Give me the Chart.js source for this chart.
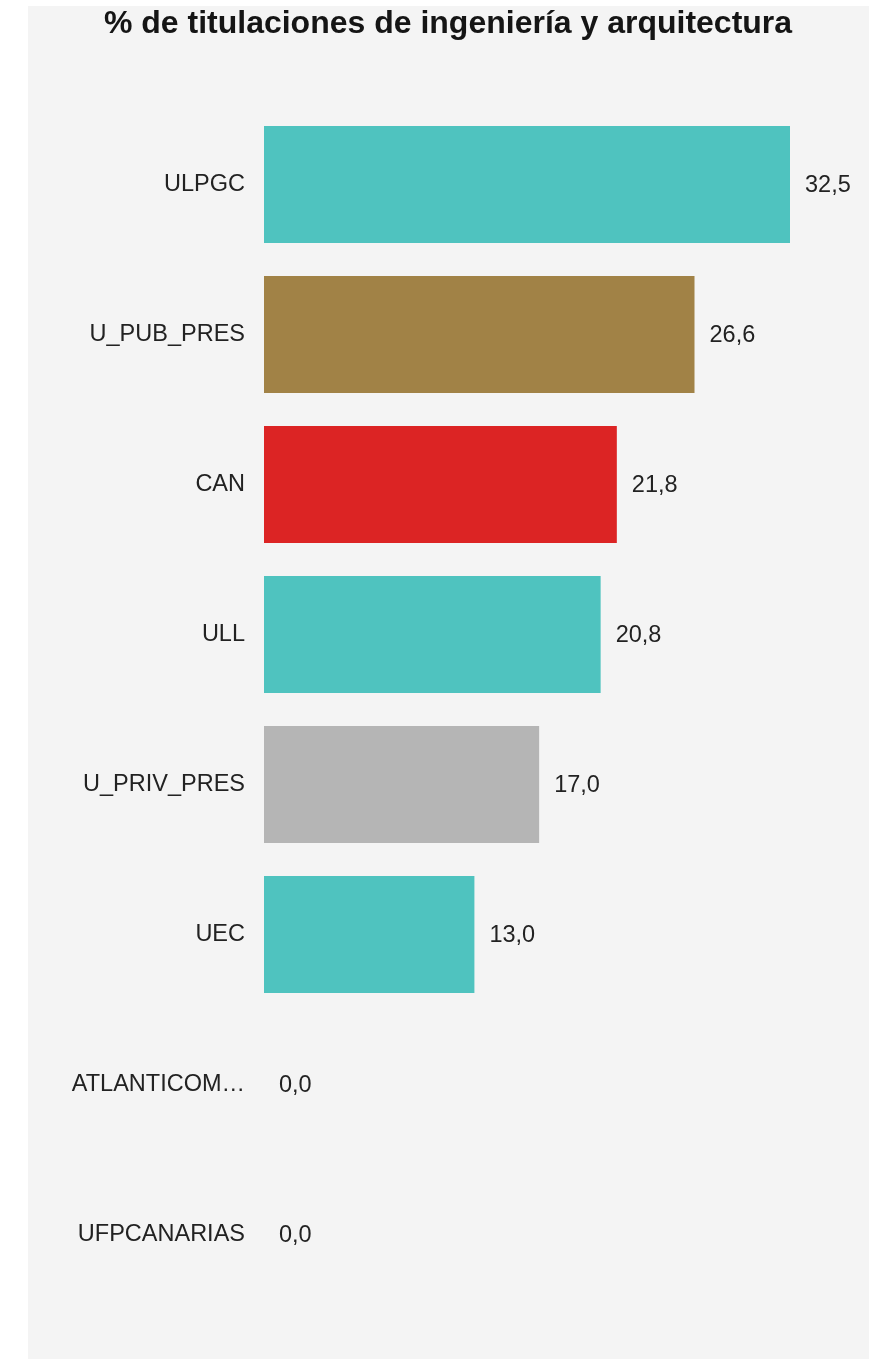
<!DOCTYPE html>
<html lang="es">
<head>
<meta charset="utf-8">
<title>% de titulaciones de ingeniería y arquitectura</title>
<script src="https://cdn.jsdelivr.net/npm/chart.js@4/dist/chart.umd.min.js"></script>
<style>
    html, body {
        margin: 0;
        padding: 0;
        background: #ffffff;
    }
    .panel {
        position: absolute;
        left: 28px;
        top: 6px;
        width: 841px;
        height: 1353px;
        background: #f4f4f4;
    }
    .chart-wrap {
        position: absolute;
        left: 0;
        top: 0;
        width: 876px;
        height: 1359px;
    }
</style>
</head>
<body>
<div class="panel"></div>
<div class="chart-wrap">
    <canvas id="engChart"></canvas>
</div>
<script>
// Data
const chartTitle = "% de titulaciones de ingeniería y arquitectura";
const universities = ["ULPGC", "U_PUB_PRES", "CAN", "ULL", "U_PRIV_PRES", "UEC", "ATLANTICOM…", "UFPCANARIAS"];
const engShare = [32.5, 26.6, 21.8, 20.8, 17.0, 13.0, 0.0, 0.0];
const barColors = ["#4fc3bf", "#a18246", "#dc2424", "#4fc3bf", "#b5b5b5", "#4fc3bf", "#4fc3bf", "#4fc3bf"];

const fontFamily = "'Liberation Sans', Arial, Helvetica, sans-serif";

// Title centred over the grey panel, not over the chart area
const panelTitle = {
    id: "panelTitle",
    afterDraw(chart) {
        const ctx = chart.ctx;
        ctx.save();
        ctx.font = "bold 32px " + fontFamily;
        ctx.fillStyle = "#151515";
        ctx.textAlign = "center";
        ctx.textBaseline = "alphabetic";
        ctx.fillText(chartTitle, 448, 33);
        ctx.restore();
    }
};

// Value labels at the end of each bar
const valueLabels = {
    id: "valueLabels",
    afterDatasetsDraw(chart) {
        const ctx = chart.ctx;
        const meta = chart.getDatasetMeta(0);
        ctx.save();
        ctx.font = "23.5px " + fontFamily;
        ctx.fillStyle = "#222222";
        ctx.textAlign = "left";
        ctx.textBaseline = "middle";
        meta.data.forEach((bar, i) => {
            const text = engShare[i].toFixed(1).replace(".", ",");
            ctx.fillText(text, bar.x + 15, bar.y + 1);
        });
        ctx.restore();
    }
};

const ctx = document.getElementById("engChart").getContext("2d");
const engChart = new Chart(ctx, {
    type: "bar",
    data: {
        labels: universities,
        datasets: [{
            data: engShare,
            backgroundColor: barColors,
            borderWidth: 0,
            categoryPercentage: 1,
            barPercentage: 0.78
        }]
    },
    options: {
        indexAxis: "y",
        responsive: true,
        maintainAspectRatio: false,
        animation: false,
        layout: {
            padding: { left: 0, right: 86, top: 109.5, bottom: 49.5 }
        },
        scales: {
            x: {
                display: false,
                min: 0,
                max: 32.5
            },
            y: {
                grid: { display: false, drawTicks: false },
                border: { display: false },
                ticks: {
                    padding: 19,
                    color: "#222222",
                    font: { family: fontFamily, size: 23.5 }
                },
                afterFit(scale) {
                    scale.width = 264;
                }
            }
        },
        plugins: {
            legend: { display: false },
            tooltip: { enabled: false },
            title: { display: false }
        }
    },
    plugins: [valueLabels, panelTitle]
});
</script>
</body>
</html>
